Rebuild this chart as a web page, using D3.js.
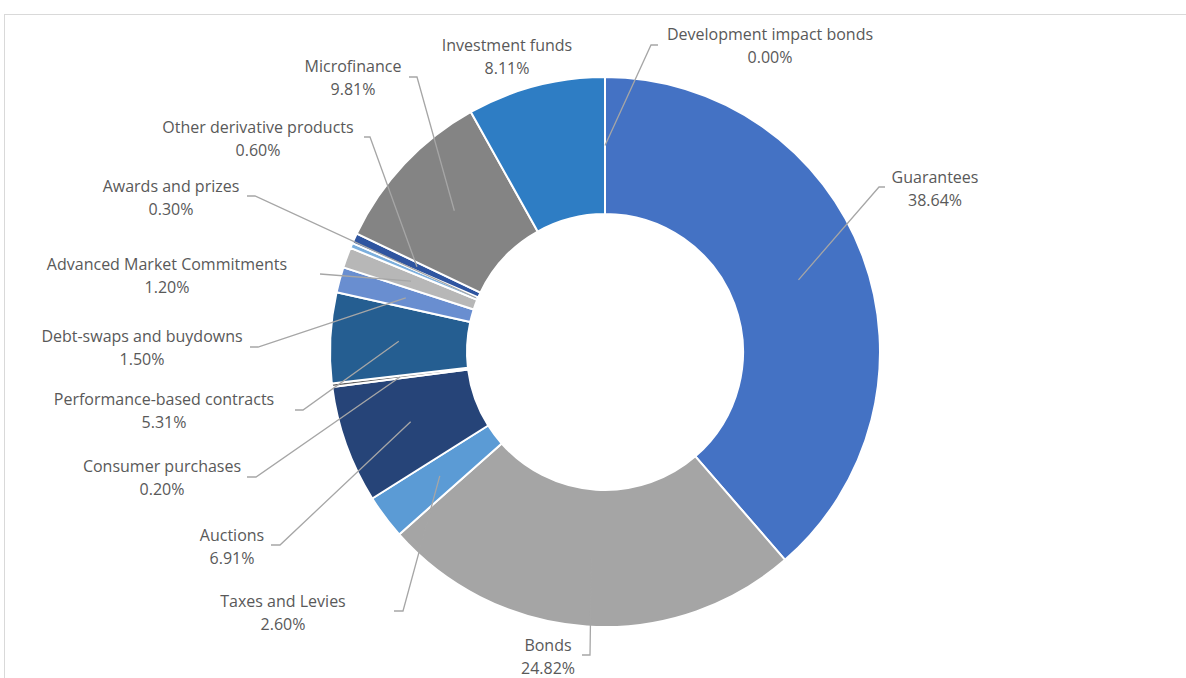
<!DOCTYPE html>
<html>
<head>
<meta charset="utf-8">
<script src="https://cdn.jsdelivr.net/npm/d3@7"></script>
<style>
  html, body { margin: 0; padding: 0; background: #fff; }
  svg { display: block; }
  text { font-family: "Open Sans", "Noto Sans", sans-serif; font-size: 16px; fill: #595959; }
</style>
</head>
<body>
<svg id="chart" width="1186" height="678"></svg>
<script>
// ---- data ----
const categories = [
  "Development impact bonds", "Guarantees", "Bonds", "Taxes and Levies", "Auctions",
  "Consumer purchases", "Performance-based contracts", "Debt-swaps and buydowns",
  "Advanced Market Commitments", "Awards and prizes", "Other derivative products",
  "Microfinance", "Investment funds"
];
const shares = [0.00, 38.64, 24.82, 2.60, 6.91, 0.20, 5.31, 1.50, 1.20, 0.30, 0.60, 9.81, 8.11];
const percentLabels = ["0.00%", "38.64%", "24.82%", "2.60%", "6.91%", "0.20%", "5.31%", "1.50%", "1.20%", "0.30%", "0.60%", "9.81%", "8.11%"];

// ---- styles ----
const colors = ["#4472C4", "#4472C4", "#A5A5A5", "#5B9BD5", "#264478", "#636363", "#255E91",
                "#698ED0", "#B7B7B7", "#7CAFDD", "#2F55A0", "#848484", "#2E7DC4"];

// label layout: text centre (tx, ty of first line), elbow (ex, ey), hook end (hx), anchor radius mode
const labelLayout = [
  {tx: 770, ty: 34,  ex: 651, ey: 45,  hx: 658, ar: "mid"},
  {tx: 935, ty: 177, ex: 879, ey: 187, hx: 885, ar: "mid"},
  {tx: 548, ty: 645, ex: 590, ey: 655, hx: 582, ar: "mid"},
  {tx: 283, ty: 601, ex: 403, ey: 611, hx: 394, ar: "mid"},
  {tx: 232, ty: 535, ex: 280, ey: 545, hx: 271, ar: "mid"},
  {tx: 162, ty: 466, ex: 256, ey: 477, hx: 247, ar: "mid"},
  {tx: 164, ty: 399, ex: 303, ey: 410, hx: 295, ar: "mid"},
  {tx: 142, ty: 336, ex: 258, ey: 347, hx: 250, ar: "mid"},
  {tx: 167, ty: 264, ex: 320, ey: 274, hx: 320, ar: "mid"},
  {tx: 171, ty: 186, ex: 255, ey: 196, hx: 247, ar: "inner"},
  {tx: 258, ty: 127, ex: 370, ey: 137, hx: 364, ar: "mid"},
  {tx: 353, ty: 66,  ex: 417, ey: 77,  hx: 409, ar: "mid"},
  {tx: 507, ty: 45,  ex: null, ey: null, hx: null, ar: null}
];

const W = 1186, H = 678;
const cx = 605, cy = 352, outerR = 275, innerR = 138;

const svg = d3.select("#chart");

// chart frame
svg.append("rect").attr("x", 4.5).attr("y", 14.5).attr("width", 1200).attr("height", 700)
  .attr("fill", "none").attr("stroke", "#D9D9D9").attr("stroke-width", 1);

const g = svg.append("g").attr("transform", `translate(${cx},${cy})`);

const pie = d3.pie().sort(null).value(d => d).startAngle(0).endAngle(2 * Math.PI);
const arcs = pie(shares);
const arc = d3.arc().innerRadius(innerR).outerRadius(outerR);

g.selectAll("path.slice").data(arcs).enter().append("path")
  .attr("class", "slice")
  .attr("d", arc)
  .attr("fill", (d, i) => colors[i])
  .attr("stroke", "#fff").attr("stroke-width", 2).attr("stroke-linejoin", "round");

const midArc = d3.arc().innerRadius((innerR + outerR) / 2).outerRadius((innerR + outerR) / 2);
const innerArc = d3.arc().innerRadius(innerR + 2).outerRadius(innerR + 2);

// leader lines
const lg = svg.append("g");
arcs.forEach((d, i) => {
  const L = labelLayout[i];
  if (L.ex === null) return;
  const c = (L.ar === "inner" ? innerArc : midArc).centroid(d);
  const pts = [[cx + c[0], cy + c[1]], [L.ex, L.ey], [L.hx, L.ey]];
  lg.append("path")
    .attr("d", d3.line()(pts))
    .attr("fill", "none").attr("stroke", "#A6A6A6").attr("stroke-width", 1.3);
});

// labels
const tg = svg.append("g");
arcs.forEach((d, i) => {
  const L = labelLayout[i];
  const t = tg.append("text").attr("text-anchor", "middle");
  t.append("tspan").attr("x", L.tx).attr("y", L.ty).attr("dy", "0.35em").text(categories[i]);
  t.append("tspan").attr("x", L.tx).attr("y", L.ty + 23).attr("dy", "0.35em").text(percentLabels[i]);
});
</script>
</body>
</html>
